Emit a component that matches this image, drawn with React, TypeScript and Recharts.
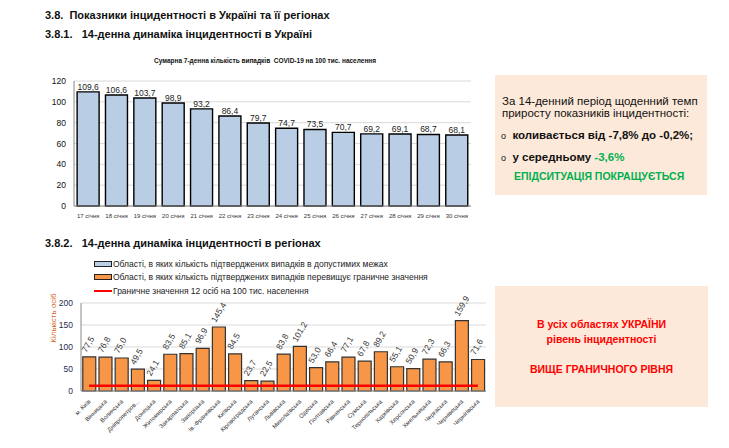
import React from "react";
import {
  Bar,
  BarChart,
  CartesianGrid,
  ComposedChart,
  LabelList,
  Line,
  XAxis,
  YAxis,
} from "recharts";

const days = [
  "17 січня", "18 січня", "19 січня", "20 січня", "21 січня", "22 січня", "23 січня",
  "24 січня", "25 січня", "26 січня", "27 січня", "28 січня", "29 січня", "30 січня",
];
const dayValues = [109.6, 106.6, 103.7, 98.9, 93.2, 86.4, 79.7, 74.7, 73.5, 70.7, 69.2, 69.1, 68.7, 68.1];
const dayTicks = [0, 20, 40, 60, 80, 100, 120];

const regions = [
  "м. Київ", "Вінницька", "Волинська", "Дніпропетров...", "Донецька", "Житомирська",
  "Закарпатська", "Запорізька", "Ів.-Франківська", "Київська", "Кіровоградська", "Луганська",
  "Львівська", "Миколаївська", "Одеська", "Полтавська", "Рівненська", "Сумська",
  "Тернопільська", "Харківська", "Херсонська", "Хмельницька", "Черкаська", "Чернівецька",
  "Чернігівська",
];
const regionValues = [
  77.5, 76.8, 75.0, 49.5, 24.1, 83.5, 85.1, 96.9, 145.4, 84.5, 23.7, 22.5, 83.8, 101.2,
  53.0, 66.4, 77.1, 67.8, 89.2, 55.1, 50.9, 72.3, 66.3, 159.9, 71.6,
];
const threshold = 12;
const regionTicks = [0, 50, 100, 150, 200];

const legendItems = [
  "Області, в яких кількість підтверджених випадків в допустимих межах",
  "Області, в яких кількість підтверджених випадків перевищує граничне значення",
  "Граничне значення 12 осіб на 100 тис. населення",
];

const FONT = "'Liberation Sans', Arial, sans-serif";
const BLUE = "#b9cde5";
const ORANGE = "#f79646";
const PINK = "#fde9d9";

const fmt = (v: number) => v.toFixed(1).replace(".", ",");

const dayData = days.map((d, i) => ({ day: d, value: dayValues[i] }));
const regionData = regions.map((r, i) => ({ region: r, value: regionValues[i], limit: threshold }));

const RegionTick = (props: any) => {
  const { x, y, payload } = props;
  const ty = y + 3;
  return (
    <text x={x + 2} y={ty} transform={`rotate(-45 ${x + 2} ${ty})`} textAnchor="end" fontSize={6} fill="#333" fontFamily={FONT}>
      {payload.value}
    </text>
  );
};

const RegionLabel = (props: any) => {
  const { x, y, width, value } = props;
  const cx = x + width / 2 - 3;
  const cy = y - 4;
  return (
    <text x={cx} y={cy} transform={`rotate(-60 ${cx} ${cy})`} fontSize={8.5} fill="#333" fontFamily={FONT}>
      {fmt(value)}
    </text>
  );
};

const abs = (left: number, top: number): React.CSSProperties => ({ position: "absolute", left, top });

export default function App() {
  return (
    <div style={{ position: "absolute", left: 0, top: 0, width: 729, height: 448, background: "#fff", fontFamily: FONT, color: "#111", overflow: "hidden" }}>
      <div style={{ ...abs(45, 9), fontSize: 11, fontWeight: "bold" }}>3.8.&nbsp; Показники інцидентності в Україні та її регіонах</div>
      <div style={{ ...abs(45, 28), fontSize: 11, fontWeight: "bold" }}>3.8.1.&nbsp;&nbsp; 14-денна динаміка інцидентності в Україні</div>
      <div style={{ position: "absolute", left: 100, width: 330, top: 57, textAlign: "center", fontSize: 6.5, fontWeight: "bold" }}>
        Сумарна 7-денна кількість випадків&nbsp; COVID-19 на 100 тис. населення
      </div>

      <div style={abs(30, 70)}>
        <BarChart width={450} height={160} data={dayData} margin={{ top: 11, right: 9, left: 14, bottom: 4 }} barCategoryGap="11%" style={{ overflow: "visible" }}>
          <CartesianGrid yAxisId="l" stroke="#d9d9d9" vertical={false} />
          <XAxis dataKey="day" height={20} interval={0} tick={{ fontSize: 6, fill: "#333", fontFamily: FONT }} tickLine={false} axisLine={{ stroke: "#888" }} />
          <YAxis yAxisId="l" width={30} domain={[0, 120]} ticks={dayTicks} interval={0} tick={{ fontSize: 8.5, fill: "#111", fontFamily: FONT }} tickLine={false} axisLine={{ stroke: "#888" }} />
          <YAxis yAxisId="r" orientation="right" width={0} domain={[0, 120]} tick={false} tickLine={false} axisLine={{ stroke: "#d9d9d9" }} />
          <Bar yAxisId="l" dataKey="value" fill={BLUE} stroke="#000" strokeWidth={1.4} isAnimationActive={false}>
            <LabelList dataKey="value" position="top" offset={2} formatter={(v: any) => fmt(Number(v))} style={{ fontSize: 8.5, fill: "#222", fontFamily: FONT }} />
          </Bar>
        </BarChart>
      </div>

      <div style={{ ...abs(495, 75), width: 212, height: 120, background: PINK }} />
      <div style={{ ...abs(502, 95), fontSize: 11.5, lineHeight: "12px", width: 205 }}>
        За 14-денний період щоденний темп
        <br />приросту показників інцидентності:
      </div>
      <div style={{ ...abs(501, 129), fontSize: 11.5 }}>
        <span style={{ fontSize: 9 }}>o</span>&nbsp; <b>коливається від -7,8% до -0,2%;</b>
      </div>
      <div style={{ ...abs(501, 151), fontSize: 11.5 }}>
        <span style={{ fontSize: 9 }}>o</span>&nbsp; <b>у середньому <span style={{ color: "#00b050" }}>-3,6%</span></b>
      </div>
      <div style={{ ...abs(514, 170), fontSize: 10.5, fontWeight: "bold", color: "#00b050" }}>ЕПІДСИТУАЦІЯ ПОКРАЩУЄТЬСЯ</div>

      <div style={{ ...abs(45, 237), fontSize: 11, fontWeight: "bold" }}>3.8.2.&nbsp;&nbsp; 14-денна динаміка інцидентності в регіонах</div>

      {legendItems.map((t, i) => (
        <div key={t} style={{ ...abs(94, 259 + i * 13.3), display: "flex", alignItems: "center", fontSize: 8.5, color: "#222", whiteSpace: "nowrap" }}>
          {i < 2 ? (
            <span style={{ display: "inline-block", width: 16, height: 4, background: i === 0 ? BLUE : ORANGE, border: "1px solid #222" }} />
          ) : (
            <span style={{ display: "inline-block", width: 18, height: 2, background: "#ff0000" }} />
          )}
          <span style={{ marginLeft: 1 }}>{t}</span>
        </div>
      ))}

      <div style={{ ...abs(53, 318), transform: "translate(-50%, -50%) rotate(-90deg)", fontSize: 8, color: "#d0641e", whiteSpace: "nowrap" }}>Кількість осіб</div>

      <div style={abs(40, 293)}>
        <ComposedChart width={460} height={155} data={regionData} margin={{ top: 10, right: 14, left: 11, bottom: 2 }} barCategoryGap="11%" style={{ overflow: "visible" }}>
          <CartesianGrid yAxisId="l" stroke="#d9d9d9" vertical={false} />
          <XAxis dataKey="region" height={55} interval={0} tick={<RegionTick />} tickLine={false} axisLine={{ stroke: "#888" }} />
          <YAxis yAxisId="l" width={30} domain={[0, 200]} ticks={regionTicks} interval={0} tick={{ fontSize: 8.5, fill: "#1f2d4d", fontFamily: FONT }} tickLine={false} axisLine={{ stroke: "#888" }} />
          <YAxis yAxisId="r" orientation="right" width={0} domain={[0, 200]} tick={false} tickLine={false} axisLine={{ stroke: "#d9d9d9" }} />
          <Bar yAxisId="l" dataKey="value" fill={ORANGE} stroke="#333" strokeWidth={1.2} isAnimationActive={false}>
            <LabelList dataKey="value" content={<RegionLabel />} />
          </Bar>
          <Line yAxisId="l" dataKey="limit" stroke="#ff0000" strokeWidth={2.5} dot={false} activeDot={false} isAnimationActive={false} />
        </ComposedChart>
      </div>

      <div style={{ ...abs(495, 286), width: 213, height: 121, background: PINK }} />
      <div style={{ position: "absolute", left: 495, width: 213, top: 317, textAlign: "center", fontSize: 10.5, fontWeight: "bold", color: "#ff0000", lineHeight: "15px" }}>
        В усіх областях УКРАЇНИ
        <br />рівень інцидентності
        <br />
        <br />ВИЩЕ ГРАНИЧНОГО РІВНЯ
      </div>
    </div>
  );
}
